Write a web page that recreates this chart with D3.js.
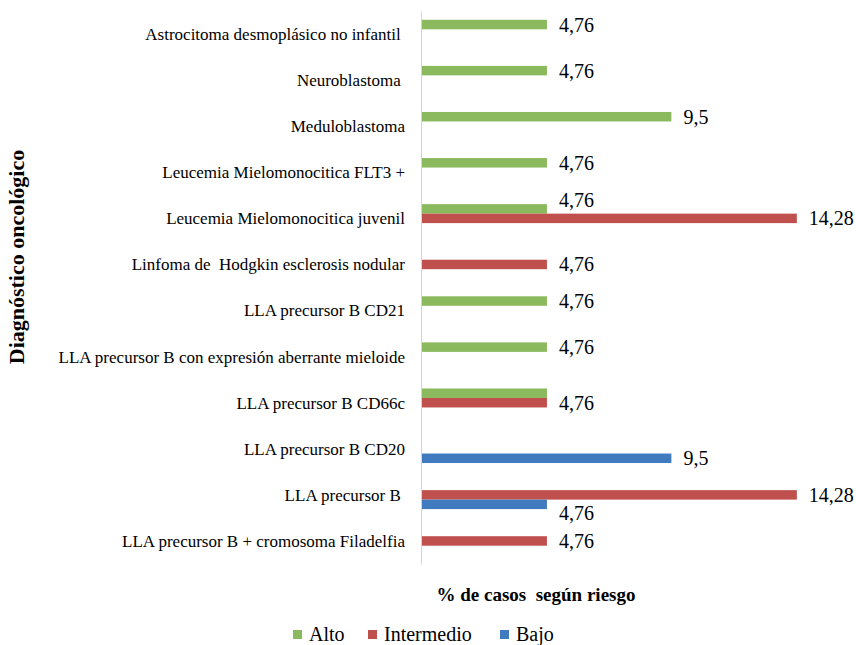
<!DOCTYPE html>
<html>
<head>
<meta charset="utf-8">
<script src="https://cdn.jsdelivr.net/npm/d3@7"></script>
<style>
  body { margin: 0; background: #fff; }
  svg text { font-family: "Liberation Serif", "Times New Roman", serif; fill: #000; white-space: pre; }
</style>
</head>
<body>
<div id="chart"></div>
<script>
// Categories, top to bottom as in the figure
const categories = [
    'Astrocitoma desmoplásico no infantil ',
    'Neuroblastoma ',
    'Meduloblastoma',
    'Leucemia Mielomonocitica FLT3 +',
    'Leucemia Mielomonocitica juvenil',
    'Linfoma de  Hodgkin esclerosis nodular',
    'LLA precursor B CD21',
    'LLA precursor B con expresión aberrante mieloide',
    'LLA precursor B CD66c',
    'LLA precursor B CD20',
    'LLA precursor B ',
    'LLA precursor B + cromosoma Filadelfia'
];

// % de casos por riesgo (null = no bar)
const alto =       [4.76, 4.76, 9.5, 4.76, 4.76, null, 4.76, 4.76, 4.76, null, null, null];
const intermedio = [null, null, null, null, 14.28, 4.76, null, null, 4.76, null, 14.28, 4.76];
const bajo =       [null, null, null, null, null, null, null, null, null, 9.5, 4.76, null];

const seriesNames = ['Alto', 'Intermedio', 'Bajo'];
const seriesValues = [alto, intermedio, bajo];
const colors = ['#8bb95d', '#c0504d', '#3f7bbe'];

// Chart dimensions
const width = 856;
const height = 645;

const svg = d3.select('#chart')
    .append('svg')
    .attr('width', width)
    .attr('height', height)
    .attr('font-family', '"Liberation Serif", serif');

// Scales
const y = d3.scaleBand()
    .domain(categories)
    .range([11, 564])
    .paddingInner(0.382)
    .paddingOuter(0.191);

const ySub = d3.scaleBand()
    .domain(seriesNames)
    .range([0, y.bandwidth()]);

const x = d3.scaleLinear()
    .domain([0, 16])
    .range([422, 842]);

// Flatten into bar records
const bars = [];
seriesNames.forEach((s, i) => {
    seriesValues[i].forEach((v, j) => {
        if (v != null) bars.push({ cat: categories[j], series: s, value: v, color: colors[i] });
    });
});

// Bars
svg.selectAll('.bar')
    .data(bars)
    .enter()
    .append('rect')
    .attr('class', 'bar')
    .attr('x', x(0))
    .attr('y', d => y(d.cat) + ySub(d.series))
    .attr('width', d => x(d.value) - x(0))
    .attr('height', ySub.bandwidth())
    .attr('fill', d => d.color);

// Category axis (labels + light vertical line)
const yAxis = d3.axisLeft(y)
    .tickSize(0)
    .tickPadding(16);

const gy = svg.append('g')
    .attr('transform', 'translate(421,0)')
    .call(yAxis)
    .attr('font-family', '"Liberation Serif", serif');

gy.select('.domain').attr('stroke', '#d4d4d4');
gy.selectAll('text')
    .attr('font-size', 17)
    .attr('dy', '0.35em');

// Value labels; in the original some were nudged and one hidden behind another
const labelShift = {
    'Leucemia Mielomonocitica juvenil|Alto': -9,
    'LLA precursor B |Bajo': 9
};
const hiddenLabels = ['LLA precursor B CD66c|Alto'];
const fmt = v => String(v).replace('.', ',');

svg.selectAll('.val')
    .data(bars.filter(d => !hiddenLabels.includes(d.cat + '|' + d.series)))
    .enter()
    .append('text')
    .attr('class', 'val')
    .attr('x', d => x(d.value) + 12)
    .attr('y', d => y(d.cat) + ySub(d.series) + ySub.bandwidth() / 2 + (labelShift[d.cat + '|' + d.series] || 0))
    .attr('dy', '0.35em')
    .attr('font-size', 20)
    .text(d => fmt(d.value));

// Axis titles
svg.append('text')
    .attr('transform', 'translate(24,257) rotate(-90)')
    .attr('text-anchor', 'middle')
    .attr('font-size', 22)
    .attr('font-weight', 'bold')
    .text('Diagnóstico oncológico');

svg.append('text')
    .attr('x', 536)
    .attr('y', 601)
    .attr('text-anchor', 'middle')
    .attr('font-size', 19)
    .attr('font-weight', 'bold')
    .text('% de casos  según riesgo');

// Legend
const legendX = [293, 368, 500];
const legend = svg.selectAll('.legend')
    .data(seriesNames)
    .enter()
    .append('g')
    .attr('class', 'legend')
    .attr('transform', (d, i) => `translate(${legendX[i]},630)`);

legend.append('rect')
    .attr('width', 9)
    .attr('height', 9)
    .attr('fill', (d, i) => colors[i]);

legend.append('text')
    .attr('x', 16)
    .attr('y', 11)
    .attr('font-size', 20)
    .text(d => d);
</script>
</body>
</html>
